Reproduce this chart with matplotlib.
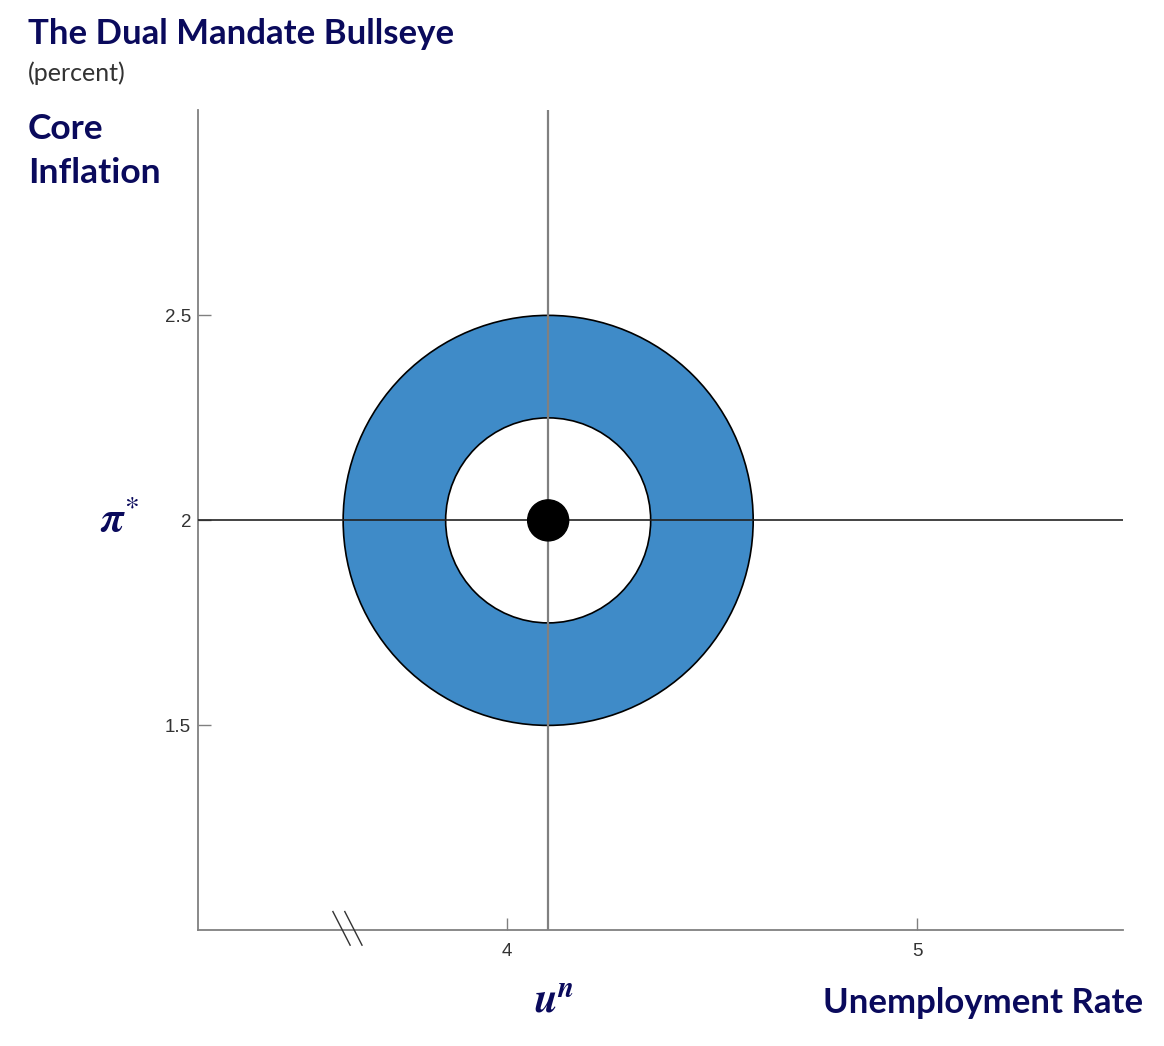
import numpy as np
import matplotlib.pyplot as plt
from matplotlib.patches import Circle

# target values (percent)
u_star = 4.1
pi_star = 2.0
outer_band = 0.5
inner_band = 0.25
dot_size = 0.05

x_ticks = [4, 5]
y_ticks = [1.5, 2, 2.5]
y_tick_labels = ['1.5', '2', '2.5']
x_lim = [3.246, 5.502]
y_lim = [1.0, 3.0]
break_x = [3.575, 3.604]

navy = '#0a0a5c'
plt.rcParams['mathtext.fontset'] = 'stix'

fig = plt.figure(figsize=(11.64, 10.46), dpi=100)
ax = fig.add_axes([0.1701, 0.1099, 0.7947, 0.7852])

ax.add_patch(Circle((u_star, pi_star), outer_band, facecolor='#3f8bc8',
                    edgecolor='black', lw=1.2, zorder=1))
ax.add_patch(Circle((u_star, pi_star), inner_band, facecolor='white',
                    edgecolor='black', lw=1.2, zorder=2))

ax.axvline(u_star, color='#808080', lw=1.6, zorder=3)
ax.axhline(pi_star, color='#222222', lw=1.2, zorder=3)

ax.add_patch(Circle((u_star, pi_star), dot_size, facecolor='black',
                    edgecolor='black', zorder=4))

ax.set_xlim(x_lim)
ax.set_ylim(y_lim)
ax.set_aspect('equal')

for s in ['top', 'right']:
    ax.spines[s].set_visible(False)
for s in ['left', 'bottom']:
    ax.spines[s].set_color('#808080')
    ax.spines[s].set_linewidth(1.3)

ax.set_xticks(x_ticks)
ax.set_yticks(y_ticks)
ax.set_yticklabels(y_tick_labels)
ax.tick_params(direction='in', length=9, width=1, color='#808080',
               labelsize=13.5, labelcolor='#333333')
ax.tick_params(axis='y', pad=5)
ax.tick_params(axis='x', pad=9)
for lab in ax.get_xticklabels() + ax.get_yticklabels():
    lab.set_family('Liberation Sans')

# axis break marks
for bx in break_x:
    ax.plot([bx, bx + 0.042], [1.046, 0.964], color='#333333', lw=1,
            clip_on=False, zorder=5)

fig.text(28 / 1164, 1 - 34 / 1046, 'The Dual Mandate Bullseye', family='Lato',
         weight='bold', fontsize=25, color=navy, va='center', ha='left')
fig.text(28 / 1164, 1 - 73 / 1046, '(percent)', family='Lato',
         fontsize=18, color='#333333', va='center', ha='left')
fig.text(28 / 1164, 1 - 151 / 1046, 'Core\nInflation', family='Lato',
         weight='bold', fontsize=25.5, color=navy, va='center', ha='left',
         linespacing=1.45)
fig.text(1143 / 1164, 1 - 1003 / 1046, 'Unemployment Rate', family='Lato',
         weight='bold', fontsize=25, color=navy, va='center', ha='right')

ax.text(-0.085, pi_star, r'$\boldsymbol{\pi}^{*}$', transform=ax.get_yaxis_transform(),
        fontsize=30, color=navy, ha='center', va='center')
ax.text(u_star + 0.015, -0.085, r'$\boldsymbol{u}^{\boldsymbol{n}}$', transform=ax.get_xaxis_transform(),
        fontsize=30, color=navy, ha='center', va='center')

plt.savefig('out.png', dpi=100)
